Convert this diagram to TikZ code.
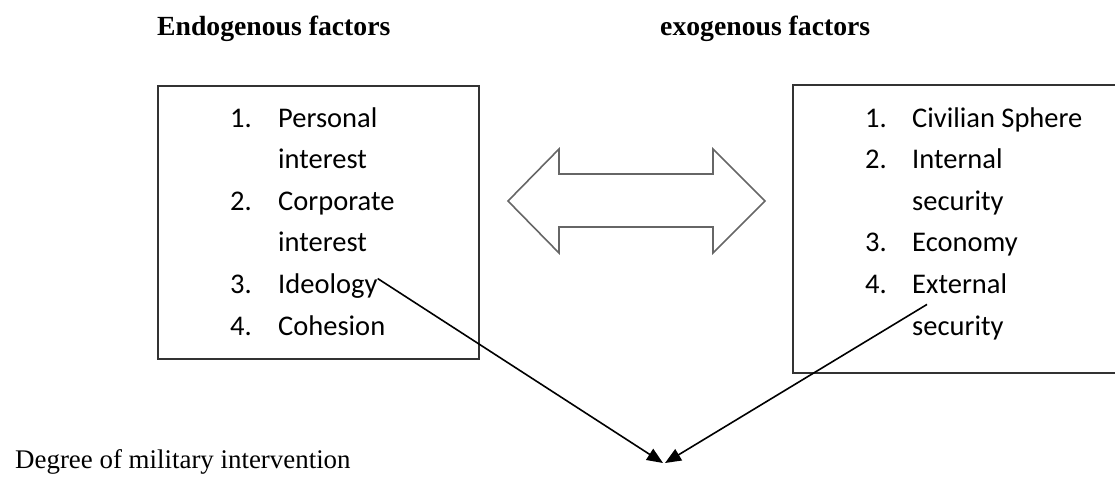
\documentclass[tikz,border=0pt]{standalone}
\usepackage{fontspec}
\setmainfont{Liberation Serif}
\newfontfamily\calibri{Carlito}
\usetikzlibrary{arrows.meta}
\tikzset{
	title/.style={anchor=base west, inner sep=0pt, font=\fontsize{27.7}{33}\selectfont\bfseries},
	entry/.style={anchor=base west, inner sep=0pt, font=\calibri\fontsize{28.5}{34}\selectfont},
	framebox/.style={line width=1.8pt, draw=black!80},
	pointer/.style={line width=1.6pt, -{Triangle[length=16pt,width=13pt]}}
}

\begin{document}
\begin{tikzpicture}[x=1pt, y=-1pt]
	% page in px: 1115 x 483, y runs downwards
	\useasboundingbox (0,0) rectangle (1115,483);
	\clip (0,0) rectangle (1115,483);

	% headings
	\node[title] (endo) at (157,35) {Endogenous factors};
	\node[title] (exo) at (660,35) {exogenous factors};

	% boxes
	\draw[framebox] (158,86) rectangle (479,359);
	\draw[framebox] (793,85) rectangle (1125,373);

	% left list - endogenous
	\node[entry] (l1) at (230,127) {1.};
	\node[entry] (personal) at (278,127) {Personal};
	\node[entry] (pinterest) at (278,168.5) {interest};
	\node[entry] (l2) at (230,210) {2.};
	\node[entry] (corporate) at (278,210) {Corporate};
	\node[entry] (cinterest) at (278,251.5) {interest};
	\node[entry] (l3) at (230,293.5) {3.};
	\node[entry] (ideo) at (278,293.5) {Ideology};
	\node[entry] (l4) at (230,335) {4.};
	\node[entry] (cohesion) at (278,335) {Cohesion};

	% right list - exogenous
	\node[entry] (r1) at (865,127) {1.};
	\node[entry] (civil) at (912,127) {Civilian Sphere};
	\node[entry] (r2) at (865,168.5) {2.};
	\node[entry] (internal) at (912,168.5) {Internal};
	\node[entry] (isecurity) at (912,210) {security};
	\node[entry] (r3) at (865,251.5) {3.};
	\node[entry] (economy) at (912,251.5) {Economy};
	\node[entry] (r4) at (865,293.5) {4.};
	\node[entry] (ext) at (912,293.5) {External};
	\node[entry] (esecurity) at (912,335) {security};

	% double arrow between the boxes
	\draw[line width=1.6pt, draw=black!60] (508,201) -- (559,149) -- (559,174) -- (713,174)
		-- (713,149) -- (765,201) -- (713,253) -- (713,227) -- (559,227) -- (559,253) -- cycle;

	% outcome
	\node[anchor=base west, inner sep=0pt, font=\fontsize{26.9}{32}\selectfont] (degree) at (15,468) {Degree of military intervention};
	\coordinate (meet) at (664,463);
	\draw[pointer] ([yshift=-5pt]ideo.north east) -- ([xshift=-1pt]meet);
	\draw[pointer] ([xshift=15pt, yshift=-10.5pt]ext.south west) -- ([xshift=1pt]meet);
\end{tikzpicture}
\end{document}
